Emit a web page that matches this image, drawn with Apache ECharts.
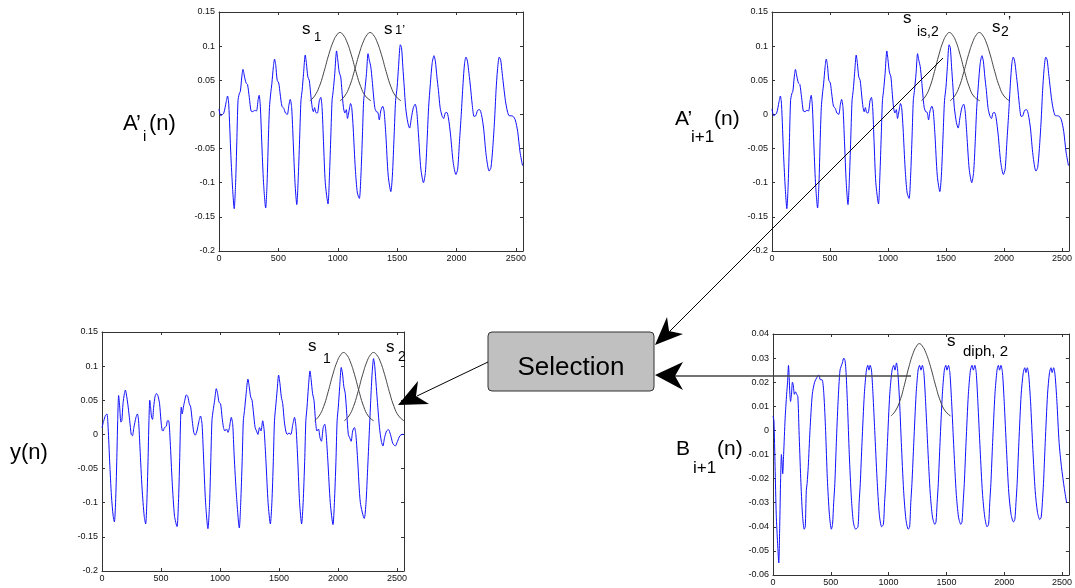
<!DOCTYPE html>
<html><head><meta charset="utf-8">
<script src="https://cdn.jsdelivr.net/npm/echarts@6/dist/echarts.min.js"></script>
<style>html,body{margin:0;padding:0;background:#fff}#c{width:1075px;height:588px}</style>
</head><body><div id="c"></div>
<script>
// ---------- data ----------
const xRange = [0, 2560];
const xTickStep = 500;
const yRangeA = [-0.2, 0.15];
const yTickStepA = 0.05;
const yRangeB = [-0.06, 0.04];
const yTickStepB = 0.01;

// A'_i(n) and A'_{i+1}(n) (same waveform in both panels)
const waveA = [[0,0.008],[15,-0.002],[40,0.002],[60,0.018],[72,0.027],[82,0.015],[100,-0.06],[115,-0.11],[128,-0.138],[140,-0.1],[150,-0.04],[160,0.02],[170,0.03],[180,0.034],[192,0.055],[202,0.066],[215,0.055],[228,0.046],[240,0.044],[255,0.025],[270,0.005],[285,0.004],[300,0.006],[315,0.005],[330,0.022],[338,0.028],[348,0.012],[360,-0.04],[375,-0.1],[393,-0.137],[405,-0.1],[415,-0.04],[425,0.01],[435,0.03],[445,0.045],[458,0.07],[468,0.081],[478,0.072],[490,0.05],[503,0.046],[515,0.03],[530,0.012],[545,0.009],[560,0.002],[575,0.0],[590,0.015],[600,0.022],[612,0.01],[625,-0.04],[640,-0.1],[655,-0.132],[668,-0.09],[680,-0.03],[690,0.02],[700,0.035],[712,0.06],[726,0.087],[736,0.075],[748,0.055],[760,0.05],[772,0.03],[785,0.01],[795,0.004],[805,0.01],[815,0.003],[828,0.002],[845,0.02],[857,0.025],[868,0.01],[880,-0.04],[895,-0.1],[918,-0.131],[930,-0.09],[942,-0.03],[952,0.02],[962,0.035],[975,0.06],[990,0.093],[1000,0.08],[1012,0.062],[1025,0.055],[1035,0.035],[1048,0.01],[1060,0.002],[1072,0.007],[1082,-0.006],[1095,0.005],[1108,0.016],[1118,0.01],[1130,-0.02],[1148,-0.08],[1165,-0.115],[1182,-0.123],[1195,-0.09],[1208,-0.03],[1218,0.02],[1228,0.035],[1242,0.06],[1255,0.089],[1265,0.08],[1278,0.07],[1290,0.05],[1300,0.03],[1312,0.01],[1325,0.004],[1338,0.003],[1350,-0.008],[1362,0.005],[1378,0.012],[1390,0.005],[1405,-0.03],[1425,-0.09],[1447,-0.113],[1460,-0.09],[1475,-0.03],[1487,0.02],[1500,0.04],[1512,0.07],[1527,0.102],[1537,0.098],[1548,0.07],[1560,0.04],[1572,0.01],[1590,-0.012],[1605,-0.02],[1620,-0.005],[1637,0.01],[1652,0.015],[1665,0.005],[1680,-0.03],[1700,-0.08],[1722,-0.1],[1738,-0.085],[1752,-0.04],[1765,0.01],[1780,0.045],[1795,0.075],[1810,0.086],[1822,0.078],[1835,0.055],[1848,0.035],[1862,0.01],[1878,-0.002],[1892,-0.006],[1905,0.002],[1918,0.003],[1932,-0.005],[1950,-0.03],[1972,-0.07],[1995,-0.088],[2010,-0.08],[2025,-0.04],[2040,0.0],[2055,0.045],[2068,0.075],[2080,0.084],[2092,0.078],[2105,0.06],[2118,0.04],[2132,0.015],[2148,-0.003],[2162,-0.002],[2178,0.006],[2195,0.007],[2210,0.0],[2228,-0.02],[2250,-0.06],[2275,-0.083],[2290,-0.078],[2305,-0.05],[2320,-0.01],[2333,0.035],[2345,0.065],[2360,0.084],[2372,0.08],[2385,0.06],[2398,0.04],[2412,0.02],[2428,0.005],[2444,-0.002],[2460,-0.002],[2478,-0.003],[2495,-0.008],[2515,-0.025],[2535,-0.055],[2556,-0.075]];

// y(n)
const waveY = [[0,0.01],[15,0.02],[30,0.028],[42,0.03],[52,0.01],[65,-0.04],[80,-0.09],[95,-0.12],[105,-0.128],[115,-0.1],[125,-0.04],[133,0.02],[141,0.057],[150,0.04],[160,0.018],[168,0.02],[178,0.045],[190,0.06],[198,0.065],[210,0.055],[222,0.04],[235,0.02],[248,0.0],[258,-0.002],[270,0.01],[288,0.025],[300,0.03],[310,0.02],[322,-0.02],[340,-0.08],[358,-0.12],[370,-0.131],[380,-0.1],[390,-0.04],[398,0.02],[405,0.05],[412,0.04],[420,0.025],[428,0.022],[438,0.04],[450,0.056],[462,0.06],[475,0.056],[488,0.045],[500,0.02],[510,0.006],[518,0.005],[530,0.01],[545,0.012],[555,0.02],[565,0.02],[578,-0.01],[595,-0.07],[615,-0.12],[636,-0.135],[648,-0.1],[658,-0.04],[666,0.02],[672,0.04],[680,0.03],[690,0.04],[702,0.05],[715,0.058],[728,0.055],[740,0.045],[752,0.04],[765,0.02],[778,0.003],[790,-0.001],[805,0.005],[820,0.018],[835,0.027],[848,0.015],[860,-0.03],[878,-0.1],[898,-0.138],[912,-0.1],[922,-0.04],[932,0.02],[942,0.035],[955,0.05],[969,0.067],[980,0.06],[992,0.047],[1005,0.045],[1018,0.025],[1030,0.01],[1042,0.005],[1055,0.008],[1068,0.003],[1080,0.01],[1096,0.025],[1108,0.015],[1120,-0.03],[1140,-0.09],[1164,-0.137],[1176,-0.1],[1188,-0.04],[1198,0.02],[1208,0.035],[1222,0.06],[1237,0.081],[1248,0.07],[1260,0.055],[1272,0.05],[1285,0.03],[1298,0.01],[1310,0.005],[1322,0.0],[1335,0.01],[1348,0.005],[1362,0.02],[1375,0.005],[1390,-0.04],[1408,-0.1],[1427,-0.131],[1440,-0.1],[1452,-0.04],[1462,0.02],[1472,0.04],[1485,0.065],[1497,0.087],[1508,0.075],[1520,0.055],[1532,0.045],[1545,0.02],[1558,0.005],[1570,0.0],[1585,0.002],[1600,0.0],[1618,0.015],[1632,0.025],[1645,0.01],[1660,-0.04],[1675,-0.1],[1692,-0.131],[1705,-0.1],[1718,-0.04],[1728,0.02],[1738,0.04],[1750,0.07],[1763,0.093],[1773,0.08],[1785,0.06],[1797,0.05],[1810,0.02],[1822,0.005],[1835,0.008],[1848,-0.005],[1860,-0.01],[1875,0.01],[1888,0.015],[1900,0.0],[1915,-0.04],[1935,-0.1],[1958,-0.132],[1970,-0.1],[1983,-0.04],[1993,0.02],[2003,0.04],[2015,0.07],[2028,0.098],[2038,0.09],[2050,0.07],[2062,0.06],[2075,0.03],[2088,0.0],[2100,-0.005],[2112,-0.01],[2125,0.005],[2140,0.01],[2152,0.0],[2168,-0.04],[2190,-0.1],[2223,-0.123],[2238,-0.1],[2252,-0.05],[2265,0.0],[2278,0.05],[2290,0.09],[2302,0.111],[2312,0.1],[2325,0.07],[2338,0.04],[2352,0.01],[2368,-0.01],[2381,-0.017],[2395,-0.005],[2412,0.005],[2428,0.007],[2445,0.0],[2465,-0.013],[2486,-0.017],[2505,-0.01],[2525,-0.002],[2545,0.0],[2560,0.0]];

// B_{i+1}(n)
const waveB = [[0,0.006],[8,0.004],[18,-0.015],[28,-0.035],[40,-0.047],[50,-0.055],[58,-0.04],[66,-0.02],[73,-0.01],[78,-0.013],[84,-0.018],[92,-0.01],[105,0.005],[118,0.015],[126,0.02],[134,0.027],[140,0.022],[146,0.015],[152,0.012],[160,0.015],[168,0.02],[175,0.019],[185,0.015],[195,0.016],[205,0.015],[215,0.014],[225,0.0],[240,-0.02],[255,-0.035],[270,-0.041],[279,-0.04],[288,-0.025],[295,-0.022],[305,-0.015],[320,0.0],[340,0.015],[360,0.02],[380,0.022],[397,0.023],[410,0.021],[425,0.021],[440,0.015],[455,0.0],[470,-0.02],[488,-0.035],[505,-0.041],[515,-0.039],[525,-0.03],[535,-0.022],[548,-0.005],[563,0.012],[580,0.025],[600,0.028],[612,0.03],[623,0.029],[632,0.024],[645,0.01],[660,-0.01],[678,-0.028],[695,-0.038],[715,-0.041],[735,-0.04],[745,-0.03],[755,-0.022],[770,-0.005],[790,0.015],[808,0.025],[820,0.027],[830,0.025],[840,0.027],[852,0.025],[865,0.015],[880,0.0],[900,-0.02],[920,-0.035],[940,-0.04],[955,-0.039],[965,-0.03],[975,-0.022],[990,-0.005],[1010,0.015],[1030,0.025],[1045,0.027],[1055,0.025],[1068,0.028],[1080,0.024],[1095,0.012],[1110,-0.005],[1130,-0.025],[1150,-0.037],[1170,-0.041],[1182,-0.04],[1192,-0.03],[1202,-0.022],[1218,-0.005],[1238,0.015],[1255,0.025],[1268,0.027],[1280,0.025],[1292,0.027],[1305,0.024],[1320,0.012],[1340,-0.008],[1360,-0.026],[1380,-0.036],[1400,-0.039],[1410,-0.038],[1420,-0.03],[1430,-0.022],[1445,-0.005],[1465,0.015],[1482,0.025],[1495,0.027],[1505,0.025],[1518,0.027],[1530,0.024],[1545,0.012],[1565,-0.008],[1585,-0.026],[1605,-0.036],[1625,-0.039],[1635,-0.038],[1645,-0.03],[1655,-0.022],[1670,-0.005],[1690,0.015],[1708,0.025],[1722,0.027],[1733,0.025],[1746,0.027],[1758,0.024],[1772,0.012],[1792,-0.008],[1812,-0.026],[1832,-0.036],[1852,-0.04],[1865,-0.039],[1875,-0.03],[1885,-0.022],[1900,-0.005],[1920,0.015],[1938,0.025],[1950,0.027],[1960,0.025],[1972,0.027],[1985,0.024],[2000,0.012],[2020,-0.008],[2040,-0.026],[2060,-0.035],[2080,-0.038],[2092,-0.037],[2102,-0.03],[2112,-0.022],[2127,-0.005],[2147,0.015],[2165,0.024],[2178,0.026],[2188,0.024],[2200,0.026],[2212,0.023],[2228,0.012],[2248,-0.008],[2268,-0.025],[2288,-0.034],[2308,-0.037],[2320,-0.036],[2330,-0.03],[2340,-0.022],[2355,-0.005],[2375,0.015],[2392,0.024],[2405,0.026],[2415,0.024],[2428,0.026],[2440,0.023],[2456,0.012],[2475,-0.005],[2495,-0.015],[2520,-0.024],[2540,-0.03]];

// window (segment) curves
const winS1 = [[765,0.02],[805,0.027],[845,0.041],[885,0.063],[925,0.088],[965,0.108],[995,0.117],[1018,0.12],[1043,0.117],[1073,0.108],[1113,0.088],[1153,0.063],[1193,0.041],[1233,0.027],[1280,0.02]];
const winS1p = [[1019,0.02],[1059,0.027],[1099,0.041],[1139,0.063],[1179,0.088],[1219,0.108],[1249,0.117],[1272,0.12],[1297,0.117],[1327,0.108],[1367,0.088],[1407,0.063],[1447,0.041],[1487,0.027],[1533,0.02]];
const winSis2 = [[1288,0.02],[1325,0.027],[1363,0.041],[1401,0.063],[1440,0.088],[1478,0.108],[1507,0.117],[1529,0.12],[1553,0.117],[1583,0.108],[1621,0.088],[1660,0.063],[1699,0.041],[1738,0.027],[1792,0.02]];
const winS2p = [[1535,0.02],[1575,0.027],[1615,0.041],[1655,0.063],[1695,0.088],[1735,0.108],[1764,0.117],[1787,0.12],[1811,0.117],[1841,0.108],[1880,0.088],[1920,0.063],[1960,0.041],[2000,0.027],[2047,0.02]];
const winY1 = [[1802,0.02],[1840,0.027],[1879,0.041],[1918,0.063],[1957,0.088],[1996,0.108],[2025,0.117],[2048,0.12],[2072,0.117],[2101,0.108],[2140,0.088],[2179,0.063],[2218,0.041],[2257,0.027],[2302,0.02]];
const winY2 = [[2054,0.02],[2093,0.027],[2132,0.041],[2171,0.063],[2210,0.088],[2249,0.108],[2278,0.117],[2302,0.12],[2326,0.117],[2356,0.108],[2395,0.088],[2435,0.063],[2475,0.041],[2515,0.027],[2560,0.02]];
const winDiph = [[1020,0.006],[1059,0.0081],[1098,0.0123],[1137,0.0189],[1176,0.0264],[1215,0.0324],[1244,0.0351],[1266,0.036],[1290,0.0351],[1321,0.0324],[1363,0.0264],[1405,0.0189],[1447,0.0123],[1489,0.0081],[1536,0.006]];

// ---------- chart ----------
const FONT = "'Liberation Sans', Arial, sans-serif";
const AX = '#333';
const grids = [
  {left: 219, top: 12, width: 304, height: 239},
  {left: 772, top: 12, width: 304, height: 239},
  {left: 102, top: 332, width: 302, height: 239},
  {left: 773, top: 334, width: 304, height: 241}
];
const yR = [yRangeA, yRangeA, yRangeA, yRangeB];
const yS = [yTickStepA, yTickStepA, yTickStepA, yTickStepB];

const xAxis = [], yAxis = [];
grids.forEach((g, i) => {
  const tick = {show: true, inside: true, length: 3, lineStyle: {color: AX}};
  const line = {show: true, onZero: false, lineStyle: {color: AX, width: 1}};
  xAxis.push({type: 'value', gridIndex: i, position: 'bottom', min: xRange[0], max: xRange[1], interval: xTickStep,
    axisLine: line, axisTick: tick, splitLine: {show: false},
    axisLabel: {show: true, fontSize: 9, fontFamily: FONT, color: '#111', margin: 3, showMaxLabel: false,
      formatter: v => String(v)}});
  xAxis.push({type: 'value', gridIndex: i, position: 'top', min: xRange[0], max: xRange[1], interval: xTickStep,
    axisLine: line, axisTick: tick, splitLine: {show: false},
    axisLabel: {show: false}});
  yAxis.push({type: 'value', gridIndex: i, position: 'left', min: yR[i][0], max: yR[i][1], interval: yS[i],
    axisLine: line, axisTick: tick, splitLine: {show: false},
    axisLabel: {show: true, fontSize: 9, fontFamily: FONT, color: '#111', margin: 4}});
  yAxis.push({type: 'value', gridIndex: i, position: 'right', min: yR[i][0], max: yR[i][1], interval: yS[i],
    axisLine: line, axisTick: tick, splitLine: {show: false},
    axisLabel: {show: false}});
});

function wave(data, gi) {
  return {type: 'line', data: data, xAxisIndex: gi * 2, yAxisIndex: gi * 2, showSymbol: false, smooth: 0.25,
    lineStyle: {color: '#1010ff', width: 1}, silent: true, z: 2};
}
function win(data, gi) {
  return {type: 'line', data: data, xAxisIndex: gi * 2, yAxisIndex: gi * 2, showSymbol: false, smooth: 0.5,
    lineStyle: {color: '#444', width: 1}, silent: true, z: 3};
}

function t(str, x, base, size, align) {
  return {type: 'text', x: x, y: base - 0.35 * size, z: 100,
    style: {text: str, fill: '#000', fontSize: size, fontFamily: FONT, align: align || 'left', verticalAlign: 'middle'}};
}

const graphic = [
  {type: 'rect', shape: {x: 488, y: 332, width: 166, height: 59, r: 4}, z: 90,
    style: {fill: '#c0c0c0', stroke: '#333', lineWidth: 1}},
  {type: 'text', x: 571, y: 368, z: 100, style: {text: 'Selection', fill: '#000', fontSize: 26, fontFamily: FONT, align: 'center', verticalAlign: 'middle'}},
  {type: 'line', z: 95, shape: {x1: 943, y1: 58, x2: 670, y2: 331}, style: {stroke: '#000', lineWidth: 1}},
  {type: 'line', z: 95, shape: {x1: 911, y1: 376, x2: 675, y2: 376}, style: {stroke: '#444', lineWidth: 1.5}},
  {type: 'line', z: 95, shape: {x1: 488, y1: 362, x2: 417, y2: 396}, style: {stroke: '#000', lineWidth: 1}},
  {type: 'polygon', z: 96, shape: {points: [[655,345],[667,317],[669,331],[683,334]]}, style: {fill: '#000'}},
  {type: 'polygon', z: 96, shape: {points: [[655,375],[683,362],[675,376],[683,390]]}, style: {fill: '#000'}},
  {type: 'polygon', z: 96, shape: {points: [[398,405],[418,381],[416,396],[429,404]]}, style: {fill: '#000'}},
  t('A\u2019', 123, 132, 22), t('i', 143, 142, 15), t('(n)', 149, 132, 22),
  t('A\u2019', 675, 127, 21), t('i+1', 691, 143, 17), t('(n)', 714, 127, 21),
  t('y(n)', 10, 461, 22),
  t('B', 676, 457, 21), t('i+1', 693, 474, 17), t('(n)', 717, 457, 21),
  t('s', 302, 35, 17), t('1', 314, 42, 13),
  t('s', 384, 35, 17), t('1\u2019', 395, 35, 13),
  t('s', 903, 24, 17), t('is,2', 917, 37, 14),
  t('s', 992, 33, 17), t('2', 1001, 37, 14), t('\u2019', 1008, 27, 14),
  t('s', 308, 352, 17), t('1', 323, 364, 14),
  t('s', 386, 353, 17), t('2', 398, 362, 14),
  t('s', 947, 347, 17), t('diph, 2', 963, 357, 15)
];

const chart = echarts.init(document.getElementById('c'), null, {renderer: 'canvas'});
chart.setOption({
  animation: false,
  backgroundColor: '#fff',
  grid: grids,
  xAxis: xAxis,
  yAxis: yAxis,
  series: [
    wave(waveA, 0), win(winS1, 0), win(winS1p, 0),
    wave(waveA, 1), win(winSis2, 1), win(winS2p, 1),
    wave(waveY, 2), win(winY1, 2), win(winY2, 2),
    wave(waveB, 3), win(winDiph, 3)
  ],
  graphic: graphic
});
</script>
</body></html>
